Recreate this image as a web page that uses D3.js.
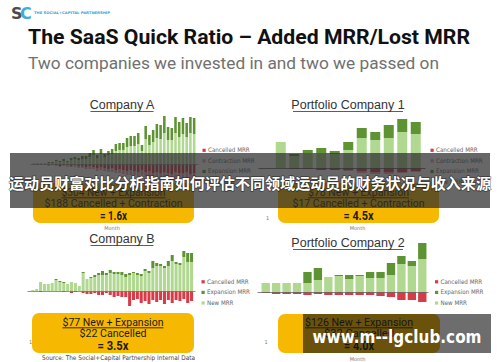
<!DOCTYPE html>
<html><head><meta charset="utf-8">
<script src="https://cdn.jsdelivr.net/npm/d3@7"></script>
<style>body{margin:0;background:#fff}svg{display:block}</style>
</head><body>
<script>
// ---------- DATA (MRR per month, $K) ----------
const aNew      = [1,1,1,1,1,1,3,2,3,2,4,5,4,5,5,7,9,6,10,7,9,10,13,14,14,17,18,18,20,13,25,19,22,26,25,31,24,24,31,27,30,27,31,30];
const aExp      = [0,0,0,0,1,1,1,1,2,1,2,2,2,3,3,4,5,3,5,3,4,5,7,7,7,9,10,10,11,6,13,10,12,14,14,17,13,12,16,15,16,14,16,16];
const aCancel   = [0,1,0,0,1,0,1,2,1,1,2,1,2,2,3,2,3,4,3,4,5,4,6,5,6,7,6,7,8,6,8,7,9,8,9,8,9,10,8,9,9,8,10,9];
const aContract = [1,0,1,1,1,1,1,1,1,2,1,2,2,2,2,3,2,3,3,3,3,4,3,4,4,4,5,4,5,5,5,6,5,6,6,6,7,6,7,6,7,7,7,8];

const bNew    = [0,1,2,9,7,7,8,11,9,8,7,9,8,5,18,12,13,14,16,16,16,18,17,17,16,14,16,18,16,15,20,18,23,25,25,23,25,30,27,26,34,29,29];
const bExp    = [0,0,0,0,0,0,0,1,1,1,0,0,0,0,1,0,1,2,2,4,2,3,2,2,3,3,2,1,2,2,2,2,7,3,2,2,5,6,2,2,6,9,9];
const bCancel = [0,0,0,1,0,0,0,0,0,1,0,2,1,0,2,3,3,2,4,4,2,4,6,5,6,6,15,9,8,12,10,13,9,11,9,13,9,12,9,10,8,12,10];

const p1New      = [26,12,15,15,14,18,30,28,30,36,34];
const p1Exp      = [0,2,3,5,3,8,10,8,13,13,12];
const p1Cancel   = [0,1,1,2,2,2,3,4,4,4,3];
const p1Contract = [0,0,0,0,0,1,2,2,2,1,1];

const p2New    = [9,9,9,9,9,12,15,16,13,16,14,14,17,28,26,33];
const p2Exp    = [0,0,0,0,11,12,0,1,4,1,6,6,12,8,5,16];
const p2Cancel = [1,2,2,2,3,2,3,3,3,3,3,4,5,8,8,10];

const chartTitles = ["Company A","Portfolio Company 1","Company B","Portfolio Company 2"];
const boxA  = ["$304 New + Expansion","$188 Cancelled + Contraction","= 1.6x"];
const boxP1 = ["$78 New + Expansion","$17 Cancelled + Contraction","= 4.5x"];
const boxB  = ["$77 New + Expansion","$22 Cancelled","= 3.5x"];
const boxP2 = ["$126 New + Expansion","$32 Cancelled","= 4.0x"];
const legend4 = ["Cancelled MRR","Contraction MRR","Expansion MRR","New MRR"];
const legend3 = ["Cancelled MRR","Expansion MRR","New MRR"];
const tickLabels = ["1"];
const xAxisLabel = "Month";

const mainTitle = "The SaaS Quick Ratio \u2013 Added MRR/Lost MRR";
const subTitle = "Two companies we invested in and two we passed on";
const sourceText = "Source: The Social+Capital Partnership Internal Data";
const bannerText = "运动员财富对比分析指南如何评估不同领域运动员的财务状况与收入来源";
const watermark = "www.m--lgclub.com";

// ---------- DRAW ----------
const COL = {"New MRR":"#b1d890","Expansion MRR":"#5e9333","Cancelled MRR":"#d83a48","Contraction MRR":"#eba4ae"};
const svg = d3.select("body").append("svg").attr("width",500).attr("height",362);
svg.append("rect").attr("width",500).attr("height",362).attr("fill","#fff");

// logo
svg.append("text").attr("x",11).attr("y",19).attr("font-family","DejaVu Sans").attr("font-weight",700)
  .attr("font-size",16).attr("fill","#4a4a4a").text("S");
svg.append("text").attr("x",20).attr("y",19).attr("font-family","DejaVu Sans").attr("font-weight",700)
  .attr("font-size",16).attr("fill","#2aa5d4").attr("opacity",0.9).text("C");
svg.append("text").attr("x",34).attr("y",13.5).attr("font-family","DejaVu Sans").attr("font-weight",700)
  .attr("font-size",3.6).attr("fill","#2aa5d4").attr("textLength",76).attr("lengthAdjust","spacingAndGlyphs")
  .text("THE SOCIAL+CAPITAL PARTNERSHIP");

svg.append("text").attr("x",28).attr("y",43.5).attr("font-family","Roboto").attr("font-weight",700)
  .attr("font-size",21).attr("fill","#111").attr("textLength",442).attr("lengthAdjust","spacingAndGlyphs").text(mainTitle);
svg.append("text").attr("x",28).attr("y",69).attr("font-family","Roboto").attr("font-weight",400)
  .attr("font-size",17).attr("fill","#707070").attr("textLength",411).attr("lengthAdjust","spacingAndGlyphs").text(subTitle);

function chart(cfg){
  const n = cfg.series["New MRR"].length;
  const x = d3.scaleBand().domain(d3.range(n)).range(cfg.xr).paddingInner(cfg.pad).paddingOuter(cfg.pad/2);
  const y = d3.scaleLinear().domain(cfg.yd).range(cfg.yr);
  const g = svg.append("g");
  const rows = d3.range(n).map(i=>({i,
    nw: cfg.series["New MRR"][i]||0, ex: cfg.series["Expansion MRR"][i]||0,
    ca: (cfg.series["Cancelled MRR"]||[])[i]||0, co: (cfg.series["Contraction MRR"]||[])[i]||0}));
  const bw = x.bandwidth();
  g.selectAll(".nw").data(rows).join("rect").attr("x",d=>x(d.i)).attr("width",bw)
    .attr("y",d=>y(d.nw)).attr("height",d=>y(0)-y(d.nw)).attr("fill",COL["New MRR"]);
  g.selectAll(".ex").data(rows).join("rect").attr("x",d=>x(d.i)).attr("width",bw)
    .attr("y",d=>y(d.nw+d.ex)).attr("height",d=>y(d.nw)-y(d.nw+d.ex)).attr("fill",COL["Expansion MRR"]);
  g.selectAll(".ca").data(rows).join("rect").attr("x",d=>x(d.i)).attr("width",bw)
    .attr("y",y(0)).attr("height",d=>y(-d.ca)-y(0)).attr("fill",COL["Cancelled MRR"]);
  g.selectAll(".co").data(rows).join("rect").attr("x",d=>x(d.i)).attr("width",bw)
    .attr("y",d=>y(-d.ca)).attr("height",d=>y(-d.ca-d.co)-y(-d.ca)).attr("fill",COL["Contraction MRR"]);
  // zero axis line
  const ax = g.append("g").attr("transform",`translate(0,${y(0)})`)
    .call(d3.axisBottom(d3.scaleLinear().range(cfg.axisX)).tickValues([]).tickSizeOuter(0));
  ax.select(".domain").attr("stroke",cfg.axisColor).attr("stroke-width",0.8);
  // title
  const t = g.append("text").attr("x",cfg.title[1]).attr("y",cfg.title[2]).attr("text-anchor","middle")
    .attr("font-family","Liberation Sans").attr("font-size",12.5).attr("fill","#333").text(cfg.title[0]);
  const tw = cfg.title[3];
  g.append("line").attr("x1",cfg.title[1]-tw/2).attr("x2",cfg.title[1]+tw/2)
    .attr("y1",cfg.title[2]+2.5).attr("y2",cfg.title[2]+2.5).attr("stroke","#333").attr("stroke-width",0.8);
  // legend
  cfg.legend.forEach((l,k)=>{
    const yy = cfg.legY + k*10.6;
    g.append("rect").attr("x",cfg.legX).attr("y",yy-3.3).attr("width",3.2).attr("height",3.2).attr("fill",COL[l]);
    g.append("text").attr("x",cfg.legX+5.5).attr("y",yy).attr("font-family","DejaVu Sans Condensed, DejaVu Sans")
      .attr("font-size",6.2).attr("fill","#666").text(l);
  });
}

chart({series:{"New MRR":aNew,"Expansion MRR":aExp,"Cancelled MRR":aCancel,"Contraction MRR":aContract},
  xr:[32,196], pad:0.32, yd:[-20,50], yr:[184,114], axisX:[30,198], axisColor:"#9a9a9a",
  title:[chartTitles[0],122,109,63], legend:legend4, legX:202.5, legY:152});
chart({series:{"New MRR":p1New,"Expansion MRR":p1Exp,"Cancelled MRR":p1Cancel,"Contraction MRR":p1Contract},
  xr:[274,422.5], pad:0.26, yd:[-10,55], yr:[178,113], axisX:[258,425], axisColor:"#555",
  title:[chartTitles[1],348,109,110], legend:legend4, legX:430.5, legY:152});
chart({series:{"New MRR":bNew,"Expansion MRR":bExp,"Cancelled MRR":bCancel},
  xr:[27,193.5], pad:0.22, yd:[-20,45], yr:[311,246], axisX:[27,195], axisColor:"#777",
  title:[chartTitles[2],122,243,63], legend:legend3, legX:201.5, legY:283.5});
chart({series:{"New MRR":p2New,"Expansion MRR":p2Exp,"Cancelled MRR":p2Cancel},
  xr:[260.5,427.5], pad:0.2, yd:[-15,55], yr:[307,237], axisX:[257,428], axisColor:"#666",
  title:[chartTitles[3],348,247,110], legend:legend3, legX:435, legY:283.5});

// yellow boxes
function box(x0,x1,y0,y1,lines,ys,ws){
  svg.append("rect").attr("x",x0).attr("y",y0).attr("width",x1-x0).attr("height",y1-y0).attr("rx",7).attr("fill","#f6b800");
  const cx=(x0+x1)/2;
  lines.forEach((s,k)=>{
    svg.append("text").attr("x",cx).attr("y",ys[k]).attr("text-anchor","middle")
      .attr("font-family","Roboto").attr("font-weight",k==2?700:400).attr("font-size",k==2?13.5:11.5)
      .attr("fill","#1c1c1c").attr("textLength",ws[k]).attr("lengthAdjust","spacingAndGlyphs").text(s);
  });
  svg.append("line").attr("x1",cx-ws[0]/2).attr("x2",cx+ws[0]/2).attr("y1",ys[0]+1.8).attr("y2",ys[0]+1.8)
    .attr("stroke","#1c1c1c").attr("stroke-width",0.9);
}
box(33,194,183,223,boxA,[196,207,219.5],[104,138,27]);
box(278,439,183,223,boxP1,[196,207,219.5],[101,132,30]);
box(32,194,313,353,boxB,[326,336.5,349.5],[101,67,31]);
box(278,440,314,353,boxP2,[326,336.5,349.5],[108,70,30]);

// small axis labels
const sm = (x,y,s,anchor)=>svg.append("text").attr("x",x).attr("y",y).attr("text-anchor",anchor||"start")
  .attr("font-family","DejaVu Sans").attr("font-size",5).attr("fill","#777").text(s);
sm(112,229.5,xAxisLabel,"middle"); sm(357.5,229.5,xAxisLabel,"middle"); sm(357.5,361,xAxisLabel,"middle");
sm(266,219.5,tickLabels[0]); sm(29,343.5,tickLabels[0]); sm(264.5,344,tickLabels[0]);

svg.append("text").attr("x",42).attr("y",359.5).attr("font-family","DejaVu Sans").attr("font-size",6.4)
  .attr("fill","#444").attr("textLength",153).attr("lengthAdjust","spacingAndGlyphs").text(sourceText);

// overlay banner
svg.append("rect").attr("x",10).attr("y",153).attr("width",480).attr("height",55).attr("fill","rgba(45,45,45,0.72)");
svg.append("text").attr("x",250).attr("y",189).attr("text-anchor","middle")
  .attr("font-family","Noto Sans CJK SC").attr("font-weight",700).attr("font-size",15)
  .attr("fill","#fff").attr("stroke","rgba(0,0,0,0.45)").attr("stroke-width",1.5).attr("paint-order","stroke")
  .attr("textLength",482).attr("lengthAdjust","spacingAndGlyphs").text(bannerText);

// watermark
svg.append("rect").attr("x",303).attr("y",314).attr("width",188).attr("height",39).attr("fill","rgba(20,20,20,0.62)");
svg.append("text").attr("x",397).attr("y",343).attr("text-anchor","middle")
  .attr("font-family","DejaVu Sans").attr("font-weight",700).attr("font-size",17)
  .attr("fill","#fff").attr("textLength",169).attr("lengthAdjust","spacingAndGlyphs").text(watermark);
</script>
</body></html>
